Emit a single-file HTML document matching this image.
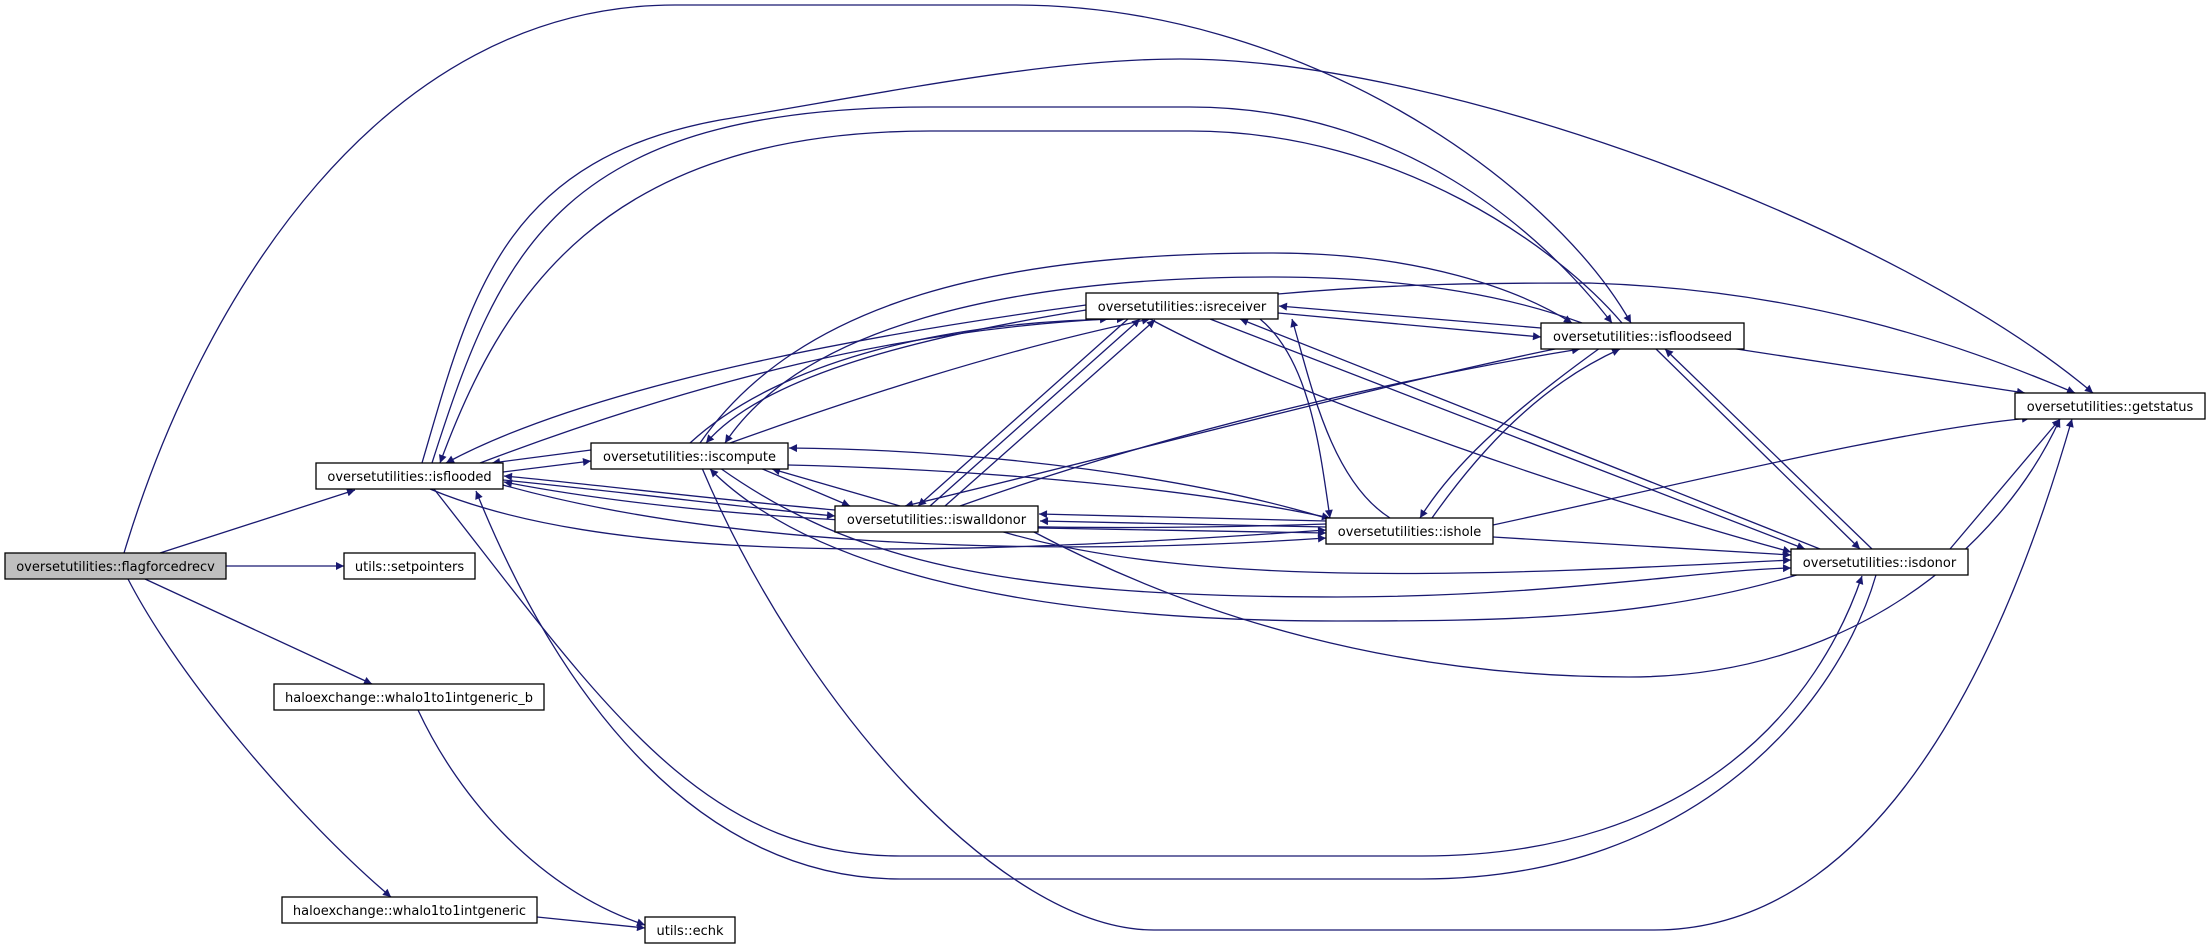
<!DOCTYPE html>
<html><head><meta charset="utf-8"><style>
html,body{margin:0;padding:0;background:#fff;}
svg{display:block;}
text{font-family:"DejaVu Sans","Liberation Sans",sans-serif;font-size:13px;fill:#000;}
.n{fill:#fff;stroke:#000;stroke-width:1.3;}
.e{fill:none;stroke:#191970;stroke-width:1.3;}
</style></head><body>
<svg width="2211" height="949" viewBox="0 0 2211 949" xmlns="http://www.w3.org/2000/svg">
<defs>
<marker id="a" viewBox="0 0 10 10" refX="10" refY="5" markerWidth="11" markerHeight="8" markerUnits="userSpaceOnUse" orient="auto">
<path d="M0,0 L10,5 L0,10 z" fill="#191970"/>
</marker>
</defs>
<g class="e" marker-end="url(#a)">
<path d="M160,553 L355,490"/>
<path d="M226,566 L344,566"/>
<path d="M145,579 L372,684"/>
<path d="M128,579 C180,680 300,820 391,897"/>
<path d="M124,553 C200,300 380,5 675,5 L1014,5 C1300,5 1550,180 1631,323"/>
<path d="M418,710 C460,800 540,890 645,925"/>
<path d="M537,917 L645,928"/>
<path d="M422,463 C470,300 500,160 720,120 C900,90 1050,59 1180,59 C1450,59 1900,230 2093,393"/>
<path d="M432,463 C500,250 560,107 930,107 L1190,107 C1400,107 1540,230 1612,323"/>
<path d="M1622,323 C1560,250 1400,131 1190,131 L930,131 C600,131 500,300 440,463"/>
<path d="M700,443 C800,300 1000,253 1273,253 C1420,253 1520,290 1572,323"/>
<path d="M1582,323 C1520,300 1420,277 1273,277 C1000,277 800,330 725,443"/>
<path d="M1278,294 C1400,283 1500,283 1589,283 C1800,290 1950,340 2075,393"/>
<path d="M1278,313 L1541,337"/>
<path d="M1541,328 L1279,306"/>
<path d="M1086,305 C900,330 600,380 446,463"/>
<path d="M480,463 C700,380 900,330 1108,319"/>
<path d="M690,443 C780,360 950,320 1125,319"/>
<path d="M1086,310 C900,340 760,380 706,443"/>
<path d="M730,443 C850,400 1000,350 1150,319"/>
<path d="M591,450 L492,463"/>
<path d="M503,472 L591,461"/>
<path d="M503,480 C650,495 750,508 835,516"/>
<path d="M835,510 C700,498 600,485 504,476"/>
<path d="M503,485 C700,540 1000,560 1326,538"/>
<path d="M1326,524 C1000,535 700,520 504,482"/>
<path d="M430,489 C600,560 900,560 1326,530"/>
<path d="M760,468 L850,506"/>
<path d="M900,506 L772,469"/>
<path d="M930,506 L1140,319"/>
<path d="M1128,319 L918,506"/>
<path d="M945,506 L1155,320"/>
<path d="M1560,348 C1400,380 1100,460 905,506"/>
<path d="M960,506 C1200,420 1450,370 1580,349"/>
<path d="M1326,521 L1039,514"/>
<path d="M1038,528 L1326,533"/>
<path d="M1326,527 L1040,521"/>
<path d="M1260,319 C1310,360 1320,450 1330,518"/>
<path d="M1390,518 C1330,480 1310,380 1292,319"/>
<path d="M1600,348 C1500,420 1450,470 1420,518"/>
<path d="M1432,518 C1480,450 1540,385 1620,349"/>
<path d="M1210,319 L1805,549"/>
<path d="M1820,549 L1240,319"/>
<path d="M1655,348 L1860,549"/>
<path d="M1872,549 L1665,349"/>
<path d="M1730,348 L2025,393"/>
<path d="M1493,525 C1700,480 1900,430 2030,418"/>
<path d="M1950,549 L2060,419"/>
<path d="M1032,531 C1200,620 1400,677 1629,677 C1850,677 2000,550 2060,419"/>
<path d="M702,468 C800,700 1000,930 1154,930 L1654,930 C1900,930 2020,600 2072,419"/>
<path d="M434,489 C600,700 700,856 900,856 L1422,856 C1700,856 1820,700 1862,576"/>
<path d="M1876,575 C1840,700 1700,879 1422,879 L900,879 C700,879 560,700 476,491"/>
<path d="M720,468 C850,560 1000,597 1337,597 C1550,597 1700,570 1791,568"/>
<path d="M1800,574 C1650,620 1500,621 1337,621 C1000,621 800,560 710,469"/>
<path d="M1326,518 C1200,480 1000,450 789,448"/>
<path d="M788,465 C1000,470 1200,490 1330,518"/>
<path d="M1000,531 C1200,590 1500,575 1791,560"/>
<path d="M1493,537 L1791,555"/>
<path d="M1150,319 C1300,400 1600,500 1791,552"/>
</g>
<rect x="5" y="553" width="221" height="26" fill="#bfbfbf" stroke="#000" stroke-width="1.3"/>
<text x="115.5" y="571" text-anchor="middle">oversetutilities::flagforcedrecv</text>
<rect class="n" x="316" y="463" width="187" height="26"/><text x="409.5" y="481" text-anchor="middle">oversetutilities::isflooded</text>
<rect class="n" x="344" y="553" width="131" height="26"/><text x="409.5" y="571" text-anchor="middle">utils::setpointers</text>
<rect class="n" x="274" y="684" width="270" height="26"/><text x="409" y="702" text-anchor="middle">haloexchange::whalo1to1intgeneric_b</text>
<rect class="n" x="282" y="897" width="255" height="26"/><text x="409.5" y="915" text-anchor="middle">haloexchange::whalo1to1intgeneric</text>
<rect class="n" x="645" y="917" width="90" height="26"/><text x="690" y="935" text-anchor="middle">utils::echk</text>
<rect class="n" x="591" y="443" width="197" height="26"/><text x="689.5" y="461" text-anchor="middle">oversetutilities::iscompute</text>
<rect class="n" x="1086" y="293" width="192" height="26"/><text x="1182" y="311" text-anchor="middle">oversetutilities::isreceiver</text>
<rect class="n" x="835" y="506" width="203" height="26"/><text x="936.5" y="524" text-anchor="middle">oversetutilities::iswalldonor</text>
<rect class="n" x="1326" y="518" width="167" height="26"/><text x="1409.5" y="536" text-anchor="middle">oversetutilities::ishole</text>
<rect class="n" x="1541" y="323" width="203" height="26"/><text x="1642.5" y="341" text-anchor="middle">oversetutilities::isfloodseed</text>
<rect class="n" x="2015" y="393" width="190" height="26"/><text x="2110" y="411" text-anchor="middle">oversetutilities::getstatus</text>
<rect class="n" x="1791" y="549" width="177" height="26"/><text x="1879.5" y="567" text-anchor="middle">oversetutilities::isdonor</text>
</svg>
</body></html>
